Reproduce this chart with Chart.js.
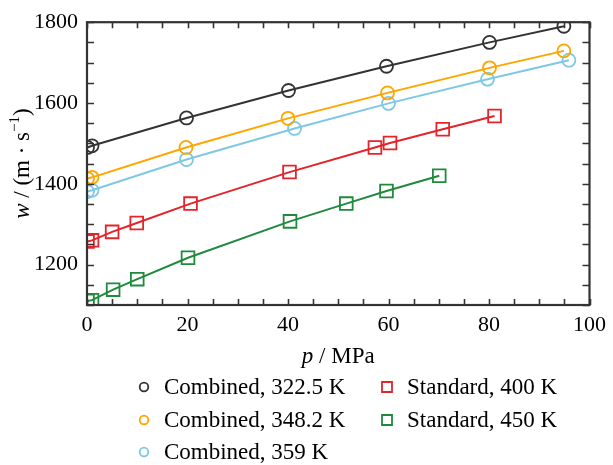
<!DOCTYPE html>
<html>
<head>
<meta charset="utf-8">
<script src="https://cdn.jsdelivr.net/npm/chart.js@4/dist/chart.umd.min.js"></script>
<style>
  body { margin: 0; background: #fff; }
  #wrap { position: relative; width: 613px; height: 465px; }
</style>
</head>
<body>
<div id="wrap"><canvas id="speed" width="613" height="465"></canvas></div>
<script>
// speed of sound data
var p322 = [0.1, 1.0, 19.8, 40.1, 59.6, 80.1, 94.9];
var w322 = [1490, 1494, 1563, 1631, 1691, 1750, 1790];
var p348 = [0.1, 1.0, 19.7, 40.0, 59.8, 80.1, 94.9];
var w348 = [1413, 1416, 1490, 1562, 1625, 1687, 1729];
var p359 = [0.1, 1.0, 19.8, 41.3, 60.0, 79.7, 95.9];
var w359 = [1381, 1384, 1460, 1537, 1599, 1659, 1706];
var p400 = [0.1, 1.0, 5.0, 9.9, 20.6, 40.3, 57.3, 60.3, 70.8, 81.1];
var w400 = [1257, 1260, 1281, 1303, 1351, 1429, 1490, 1501, 1535, 1568];
var p450 = [0.1, 1.0, 5.2, 10.0, 20.1, 40.4, 51.6, 59.6, 70.1];
var w450 = [1110, 1112, 1138, 1164, 1217, 1307, 1351, 1382, 1420];

var labels = ['Combined, 322.5 K', 'Combined, 348.2 K', 'Combined, 359 K', 'Standard, 400 K', 'Standard, 450 K'];
var xTicks = [0, 20, 40, 60, 80, 100];
var yTicks = [1200, 1400, 1600, 1800];

var colors = ['#333333', '#FFA500', '#7EC8E3', '#E3242B', '#1F8A3C'];
var styles = ['circle', 'circle', 'circle', 'rect', 'rect'];
var serif = '"Liberation Serif", "Times New Roman", serif';

function pts(px, py) {
  return px.map(function(v, i) { return {x: v, y: py[i]}; });
}

var series = [pts(p322, w322), pts(p348, w348), pts(p359, w359), pts(p400, w400), pts(p450, w450)];

var datasets = series.map(function(d, i) {
  return {
    label: labels[i],
    data: d,
    showLine: true,
    borderColor: colors[i],
    backgroundColor: 'rgba(0,0,0,0)',
    borderWidth: 2,
    pointStyle: styles[i],
    pointRadius: styles[i] == 'rect' ? 9 : 6.5,
    pointBorderWidth: 1.8,
    pointBorderColor: colors[i],
    pointBackgroundColor: 'rgba(0,0,0,0)'
  };
});

// frame, inward ticks, axis titles and legend
var decor = {
  id: 'decor',
  afterDraw: function(chart) {
    var ctx = chart.ctx, a = chart.chartArea;
    var x = chart.scales.x, y = chart.scales.y;
    ctx.save();
    ctx.strokeStyle = '#333';
    ctx.lineWidth = 1.6;
    ctx.beginPath();
    for (var v = 0; v <= 100; v += 5) {
      var px = Math.round(x.getPixelForValue(v)) + 0.5;
      ctx.moveTo(px, a.bottom); ctx.lineTo(px, a.bottom - 6);
      ctx.moveTo(px, a.top); ctx.lineTo(px, a.top + 6);
    }
    for (var w = 1100; w <= 1800; w += 50) {
      var py = Math.round(y.getPixelForValue(w)) + 0.5;
      ctx.moveTo(a.left, py); ctx.lineTo(a.left + 7, py);
      ctx.moveTo(a.right, py); ctx.lineTo(a.right - 7, py);
    }
    ctx.stroke();
    ctx.lineWidth = 2.2;
    ctx.strokeRect(a.left, a.top, a.right - a.left, a.bottom - a.top);

    ctx.fillStyle = '#000';
    ctx.textBaseline = 'alphabetic';
    // x title
    var parts = [['italic 23px ' + serif, 'p', 0], ['23px ' + serif, ' / MPa', 0]];
    drawParts(ctx, parts, (a.left + a.right) / 2, 363);
    // y title
    ctx.save();
    ctx.translate(29, (a.top + a.bottom) / 2);
    ctx.rotate(-Math.PI / 2);
    drawParts(ctx, [['italic 23px ' + serif, 'w', 0], ['23px ' + serif, ' / (m \u00b7 s', 0],
      ['15px ' + serif, '\u22121', -10], ['23px ' + serif, ')', 0]], 0, 0);
    ctx.restore();

    // legend, two columns
    var slots = [[144, 387], [144, 420], [144, 452], [267, 387], [267, 420]];
    slots = slots.map(function(s, i) { return i > 2 ? [387, s[1]] : s; });
    ctx.font = '23px ' + serif;
    ctx.textAlign = 'left';
    ctx.textBaseline = 'middle';
    for (var i = 0; i < labels.length; i++) {
      var sx = slots[i][0], sy = slots[i][1];
      ctx.strokeStyle = colors[i];
      ctx.lineWidth = 1.8;
      ctx.beginPath();
      if (styles[i] == 'circle') ctx.arc(sx, sy, 4.3, 0, Math.PI * 2);
      else ctx.rect(sx - 5, sy - 5, 10, 10);
      ctx.stroke();
      ctx.fillText(labels[i], sx + 20, sy + 1);
    }
    ctx.restore();
  }
};

function drawParts(ctx, parts, cx, by) {
  var total = 0;
  parts.forEach(function(pt) { ctx.font = pt[0]; total += ctx.measureText(pt[1]).width; });
  var cur = cx - total / 2;
  ctx.textAlign = 'left';
  parts.forEach(function(pt) {
    ctx.font = pt[0];
    ctx.fillText(pt[1], cur, by + pt[2]);
    cur += ctx.measureText(pt[1]).width;
  });
}

new Chart(document.getElementById('speed'), {
  type: 'scatter',
  data: { datasets: datasets },
  plugins: [decor],
  options: {
    responsive: false,
    animation: false,
    layout: { padding: { top: 15, right: 18, left: 0, bottom: 100 } },
    plugins: { legend: { display: false }, tooltip: { enabled: false } },
    scales: {
      x: {
        type: 'linear', min: 0, max: 100,
        grid: { display: false, drawTicks: false },
        border: { display: false },
        afterBuildTicks: function(s) { s.ticks = xTicks.map(function(v) { return {value: v}; }); },
        afterFit: function(s) { s.height = 60; },
        ticks: { color: '#000', padding: 7, maxRotation: 0, font: { family: serif, size: 22 },
          callback: function(v) { return String(v); } }
      },
      y: {
        type: 'linear', min: 1100, max: 1800,
        grid: { display: false, drawTicks: false },
        border: { display: false },
        afterBuildTicks: function(s) { s.ticks = yTicks.map(function(v) { return {value: v}; }); },
        afterFit: function(s) { s.width = 87; },
        ticks: { color: '#000', padding: 9, font: { family: serif, size: 22 },
          callback: function(v) { return String(v); } }
      }
    }
  }
});
</script>
</body>
</html>
